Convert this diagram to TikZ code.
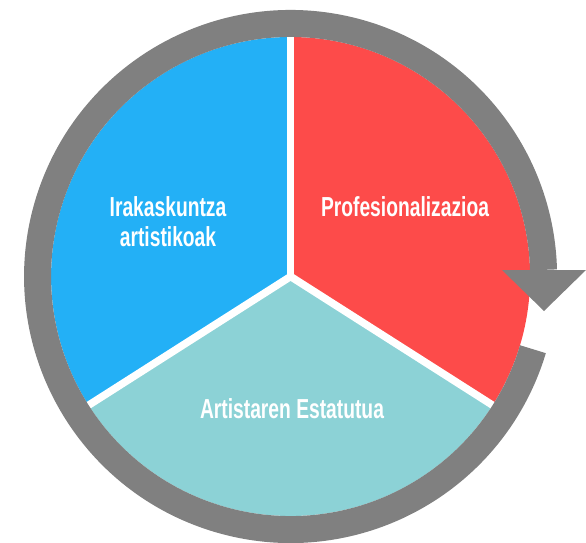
\documentclass[tikz,border=0pt]{standalone}
\usepackage{fontspec}
\newfontfamily\labelfont[FakeStretch=0.7]{Liberation Sans}
\definecolor{cblue}{RGB}{35,176,246}
\definecolor{cred}{RGB}{253,75,74}
\definecolor{cteal}{RGB}{140,210,214}
\definecolor{cgray}{RGB}{128,128,128}
\begin{document}
\begin{tikzpicture}[x=1pt,y=1pt,
  sector/.style={draw=none},
  divider/.style={draw=white,line width=7.5pt},
  ringline/.style={draw=cgray,line width=27pt},
  lbl/.style={text=white,font=\labelfont\bfseries\fontsize{27.5}{30}\selectfont,align=center,inner sep=0pt}]
\useasboundingbox (-290.6,-265.5) rectangle (295.4,276.5);
\def\R{239.5}
% sectors
\fill[cblue] (0,0) -- (90:\R) arc[start angle=90,end angle=212.5,radius=\R] -- cycle;
\fill[cred] (0,0) -- (90:\R) arc[start angle=90,end angle=-32.5,radius=\R] -- cycle;
\fill[cteal] (0,0) -- (212.5:\R) arc[start angle=212.5,end angle=327.5,radius=\R] -- cycle;
% dividers
\coordinate (c) at (0,0);
\coordinate (d1) at (90:\R+1);
\coordinate (d2) at (212.5:\R+1);
\coordinate (d3) at (327.5:\R+1);
\draw[divider] (c) -- (d1);
\draw[divider] (c) -- (d2);
\draw[divider] (c) -- (d3);
% ring arrow
\draw[ringline] (-16.7:253) arc[start angle=-16.7,end angle=-358.5,radius=253];
\coordinate (hl) at (211.4,6.5);
\coordinate (hr) at (295.4,6.5);
\coordinate (ht) at (253.4,-34.5);
\fill[cgray] (hl) -- (hr) -- (ht) -- cycle;
% labels
\node[lbl] (irak) at (-122.6,54.5) {Irakaskuntza\\artistikoak};
\node[lbl] (prof) at (114.4,69.5) {Profesionalizazioa};
\node[lbl] (arti) at (1.4,-132.5) {Artistaren Estatutua};
\end{tikzpicture}
\end{document}
